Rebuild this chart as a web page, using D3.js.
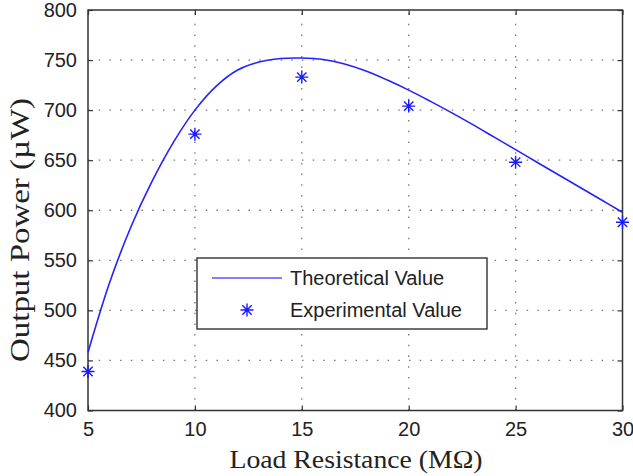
<!DOCTYPE html>
<html>
<head>
<meta charset="utf-8">
<script src="https://cdn.jsdelivr.net/npm/d3@7"></script>
<style>
  body { margin: 0; background: #fff; }
  svg text { fill: #222; }
</style>
</head>
<body>
<div id="chart"></div>
<script>
// theoretical curve
const theoX = [5, 6, 7, 8, 9, 10, 11, 12, 13, 14, 15, 16, 17, 18, 19, 20, 21, 22, 23, 24, 25, 26, 27, 28, 29, 30];
const theoY = [458, 527, 583, 629, 668, 700, 724, 740, 748, 751.5, 752, 750.5, 746, 739, 730, 720, 709, 697.5, 685.5, 673, 660.5, 648, 635.5, 623, 610.5, 598];

// experimental points
const expX = [5, 10, 15, 20, 25, 30];
const expY = [439, 676, 733, 704, 648, 588];

const xTicks = [5, 10, 15, 20, 25, 30];
const yTicks = [400, 450, 500, 550, 600, 650, 700, 750, 800];

const legendLabels = ["Theoretical Value", "Experimental Value"];

function draw() {
    const width = 633;
    const height = 476;
    const margin = { left: 88, right: 10.5, top: 10, bottom: 65.5 };

    const svg = d3.select("#chart")
        .append("svg")
        .attr("width", width)
        .attr("height", height);

    const x = d3.scaleLinear()
        .domain([5, 30])
        .range([margin.left, width - margin.right]);
    const y = d3.scaleLinear()
        .domain([400, 800])
        .range([height - margin.bottom, margin.top]);

    const x0 = x.range()[0], x1 = x.range()[1];
    const y0 = y.range()[0], y1 = y.range()[1];

    // dotted grid
    const grid = svg.append("g")
        .attr("stroke", "#777")
        .attr("stroke-width", 1.3)
        .attr("stroke-dasharray", "1.5,9.2");
    grid.selectAll("line.gx")
        .data(xTicks.slice(1, -1))
        .join("line")
        .attr("class", "gx")
        .attr("x1", d => x(d)).attr("x2", d => x(d))
        .attr("y1", y0).attr("y2", y1);
    grid.selectAll("line.gy")
        .data(yTicks.slice(1, -1))
        .join("line")
        .attr("class", "gy")
        .attr("y1", d => y(d)).attr("y2", d => y(d))
        .attr("x1", x0).attr("x2", x1);

    // axes (ticks pointing inward, MATLAB style)
    const font = "'Liberation Sans', Arial, sans-serif";
    const xAxis = svg.append("g")
        .attr("transform", `translate(0,${y0})`)
        .call(d3.axisBottom(x).tickValues(xTicks).tickSize(-5).tickPadding(12));
    const yAxis = svg.append("g")
        .attr("transform", `translate(${x0},0)`)
        .call(d3.axisLeft(y).tickValues(yTicks).tickSize(-5).tickPadding(11));
    const xTop = svg.append("g")
        .attr("transform", `translate(0,${y1})`)
        .call(d3.axisTop(x).tickValues(xTicks).tickSize(-5).tickFormat(""));
    const yRight = svg.append("g")
        .attr("transform", `translate(${x1},0)`)
        .call(d3.axisRight(y).tickValues(yTicks).tickSize(-5).tickFormat(""));

    [xAxis, yAxis, xTop, yRight].forEach(g => {
        g.select(".domain").remove();
        g.selectAll(".tick line").attr("stroke", "#333").attr("stroke-width", 1.2);
        g.selectAll(".tick text")
            .style("font-family", font)
            .style("font-size", "20px")
            .attr("fill", "#222");
    });
    xAxis.selectAll(".tick text").attr("dy", "0.66em");

    svg.append("rect")
        .attr("x", x0).attr("y", y1)
        .attr("width", x1 - x0).attr("height", y0 - y1)
        .attr("fill", "none")
        .attr("stroke", "#333")
        .attr("stroke-width", 1.5);

    // theoretical curve
    const line = d3.line()
        .x(d => x(d[0]))
        .y(d => y(d[1]))
        .curve(d3.curveCatmullRom);
    svg.append("path")
        .datum(theoX.map((v, i) => [v, theoY[i]]))
        .attr("d", line)
        .attr("fill", "none")
        .attr("stroke", "#2222ff")
        .attr("stroke-width", 1.6);

    // asterisk marker
    const r = 6.5, rd = r * 0.72;
    const star = `M${-r},0L${r},0M0,${-r}L0,${r}M${-rd},${-rd}L${rd},${rd}M${-rd},${rd}L${rd},${-rd}`;
    svg.append("g")
        .selectAll("path")
        .data(expX.map((v, i) => [v, expY[i]]))
        .join("path")
        .attr("transform", d => `translate(${x(d[0])},${y(d[1])})`)
        .attr("d", star)
        .attr("fill", "none")
        .attr("stroke", "#1a1aff")
        .attr("stroke-width", 1.4);

    // legend
    const legend = svg.append("g").attr("transform", "translate(197,258)");
    legend.append("rect")
        .attr("width", 290).attr("height", 71)
        .attr("fill", "#fff")
        .attr("stroke", "#222")
        .attr("stroke-width", 1.3);
    legend.append("line")
        .attr("x1", 15).attr("x2", 85)
        .attr("y1", 20).attr("y2", 20)
        .attr("stroke", "#5555ff")
        .attr("stroke-width", 1.6);
    legend.append("path")
        .attr("transform", "translate(50,52)")
        .attr("d", star)
        .attr("fill", "none")
        .attr("stroke", "#1a1aff")
        .attr("stroke-width", 1.4);
    legend.selectAll("text")
        .data(legendLabels)
        .join("text")
        .attr("x", 93)
        .attr("y", (d, i) => 20 + i * 32)
        .attr("dy", "0.36em")
        .style("font-family", font)
        .style("font-size", "20px")
        .text(d => d);

    // axis titles
    const serif = "'Liberation Serif', 'Times New Roman', serif";
    svg.append("text")
        .attr("x", 356)
        .attr("y", 468)
        .attr("text-anchor", "middle")
        .attr("textLength", 253)
        .attr("lengthAdjust", "spacingAndGlyphs")
        .style("font-family", serif)
        .style("font-size", "26px")
        .text("Load Resistance (MΩ)");
    svg.append("text")
        .attr("transform", "translate(29,230) rotate(-90)")
        .attr("text-anchor", "middle")
        .attr("textLength", 264)
        .attr("lengthAdjust", "spacingAndGlyphs")
        .style("font-family", serif)
        .style("font-size", "27px")
        .text("Output Power (µW)");
}

window.onload = draw;
</script>
</body>
</html>
